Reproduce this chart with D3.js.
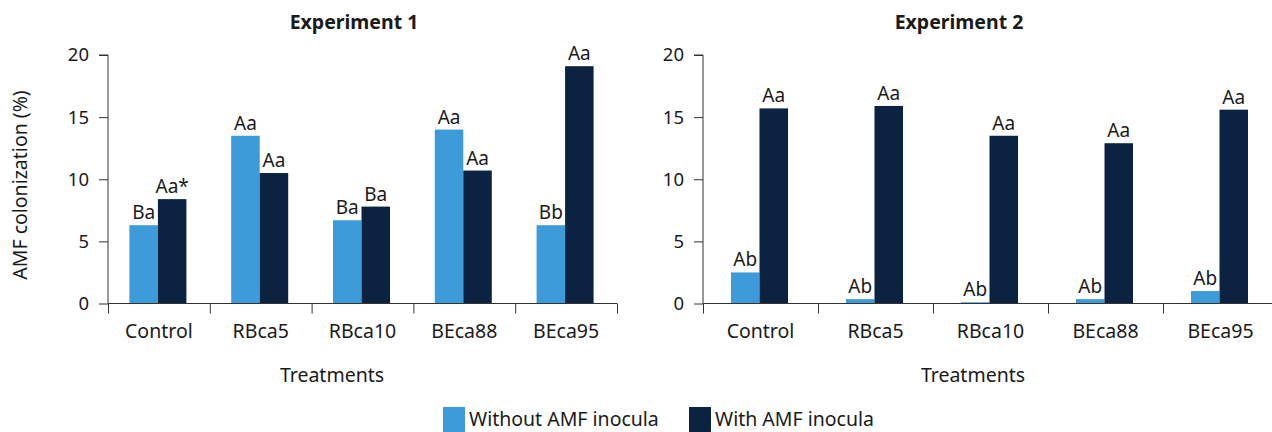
<!DOCTYPE html>
<html><head><meta charset="utf-8">
<script src="https://cdn.jsdelivr.net/npm/d3@7"></script>
<style>
body{margin:0;background:#fff}
svg{display:block}
text{font-family:'Noto Sans',sans-serif;fill:#1a1a1a}
</style>
</head><body>
<svg id="chart" width="1272" height="432"></svg>
<script>
const categories = ["Control","RBca5","RBca10","BEca88","BEca95"];
const seriesNames = ["Without AMF inocula","With AMF inocula"];
const exp1Without = [6.3,13.5,6.7,14.0,6.3];
const exp1With = [8.4,10.5,7.8,10.7,19.1];
const exp1WithoutLabels = ["Ba","Aa","Ba","Aa","Bb"];
const exp1WithLabels = ["Aa*","Aa","Ba","Aa","Aa"];
const exp2Without = [2.5,0.35,0.1,0.35,1.0];
const exp2With = [15.7,15.9,13.5,12.9,15.6];
const exp2WithoutLabels = ["Ab","Ab","Ab","Ab","Ab"];
const exp2WithLabels = ["Aa","Aa","Aa","Aa","Aa"];
const yTicks = [0,5,10,15,20];
const panelTitles = ["Experiment 1","Experiment 2"];
const xAxisTitle = "Treatments";
const yAxisTitle = "AMF colonization (%)";
const colors = ["#3d9bd9","#0b2341"];

const svg = d3.select("#chart");
const FONT = "'Noto Sans',sans-serif";

const panels = [
  {title: panelTitles[0], vals: [exp1Without, exp1With], labs: [exp1WithoutLabels, exp1WithLabels],
   x0: 108, x1: 617, titleX: 354, xTitleX: 332, yTitle: true},
  {title: panelTitles[1], vals: [exp2Without, exp2With], labs: [exp2WithoutLabels, exp2WithLabels],
   x0: 703, x1: 1278, titleX: 959, xTitleX: 973, yTitle: false}
];
const yBottom = 303.5, yTop = 55;
const groupW = 57;

panels.forEach(p => {
  const g = svg.append("g");
  const y = d3.scaleLinear().domain([0,20]).range([yBottom, yTop]);
  const x = d3.scaleBand().domain(categories).range([p.x0, p.x1]).paddingInner(0).paddingOuter(0);
  const idx = d3.scaleLinear().domain([0, categories.length]).range([p.x0, p.x1]);
  const xs = d3.scaleBand().domain(seriesNames).range([-groupW/2, groupW/2]).padding(0);

  seriesNames.forEach((s, si) => {
    g.selectAll(null).data(categories).enter().append("rect")
      .attr("x", (c) => x(c) + x.bandwidth()/2 + xs(s) - 1)
      .attr("y", (c, i) => y(p.vals[si][i]))
      .attr("width", xs.bandwidth())
      .attr("height", (c, i) => yBottom - y(p.vals[si][i]))
      .attr("fill", colors[si]);
    g.selectAll(null).data(categories).enter().append("text")
      .attr("x", (c) => x(c) + x.bandwidth()/2 + xs(s) - 1 + xs.bandwidth()/2)
      .attr("y", (c, i) => y(p.vals[si][i]) - 6)
      .attr("text-anchor", "middle")
      .style("font-size", "19px")
      .text((c, i) => p.labs[si][i]);
  });

  const ya = g.append("g").attr("transform", `translate(${p.x0},0)`)
    .call(d3.axisLeft(y).tickValues(yTicks).tickSize(9).tickPadding(10).tickFormat(d3.format("d")));
  ya.select(".domain").attr("stroke", "#333").attr("d", `M-9,${yTop}H0V${yBottom}`);
  ya.selectAll(".tick line").attr("stroke", "#333");
  ya.selectAll(".tick text").style("font-size", "18.5px").attr("fill", "#1a1a1a").style("font-family", FONT);

  const xa = g.append("g").attr("transform", `translate(0,${yBottom})`)
    .call(d3.axisBottom(idx).tickValues(d3.range(categories.length + 1)).tickSize(10).tickFormat(""));
  xa.select(".domain").attr("stroke", "#333").attr("d", `M${p.x0},0H${p.x1}`);
  xa.selectAll(".tick line").attr("stroke", "#333");

  const xl = g.append("g").attr("transform", `translate(0,${yBottom})`)
    .call(d3.axisBottom(x).tickSize(0).tickPadding(21));
  xl.select(".domain").remove();
  xl.selectAll(".tick text").style("font-size", "19.5px").attr("fill", "#1a1a1a").style("font-family", FONT);

  g.append("text").attr("x", p.titleX).attr("y", 29).attr("text-anchor", "middle")
    .style("font-size", "19.5px").style("font-weight", "bold").text(p.title);
  g.append("text").attr("x", p.xTitleX).attr("y", 382).attr("text-anchor", "middle")
    .style("font-size", "19.5px").text(xAxisTitle);
  if (p.yTitle) {
    g.append("text").attr("transform", "translate(27,185) rotate(-90)").attr("text-anchor", "middle")
      .style("font-size", "19.5px").text(yAxisTitle);
  }
});

const legend = svg.append("g");
const legendX = [443, 689];
seriesNames.forEach((s, i) => {
  legend.append("rect").attr("x", legendX[i]).attr("y", 407).attr("width", 22).attr("height", 25).attr("fill", colors[i]);
  legend.append("text").attr("x", legendX[i] + 26).attr("y", 426).style("font-size", "19.5px").text(s);
});
</script>
</body></html>
